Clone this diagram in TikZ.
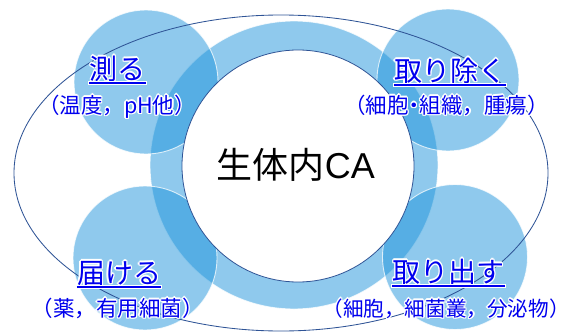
\documentclass[tikz,border=0pt]{standalone}
\usepackage{fontspec}
\setmainfont{Noto Sans CJK JP}
\newfontfamily\latinsans{Liberation Sans}
\usetikzlibrary{shapes.geometric}
\definecolor{ringblue}{RGB}{31,148,219}
\definecolor{lineblue}{RGB}{47,84,150}
\definecolor{txtblue}{RGB}{0,0,238}
\newcommand\hc[3]{\rlap{\hspace*{#1}\raisebox{#2}{#3}}}
\newcommand\glow[1]{{\color{white}%
 \hc{1.4pt}{0pt}{#1}\hc{-1.4pt}{0pt}{#1}\hc{0pt}{1.4pt}{#1}\hc{0pt}{-1.4pt}{#1}%
 \hc{1pt}{1pt}{#1}\hc{-1pt}{1pt}{#1}\hc{1pt}{-1pt}{#1}\hc{-1pt}{-1pt}{#1}}#1}
\begin{document}
\begin{tikzpicture}[x=1pt,y=-1pt,
  disc/.style={circle, inner sep=0pt, fill=ringblue, fill opacity=.5,
    draw=white, draw opacity=.75, line width=.9pt},
  core/.style={circle, inner sep=0pt, fill=white, draw=lineblue, line width=.8pt},
  orbit/.style={ellipse, inner sep=0pt, draw=lineblue, line width=.85pt},
  head/.style={font=\fontsize{28}{30}\selectfont, text=txtblue, inner sep=0pt, anchor=base},
  sub/.style={font=\fontsize{21.5}{24}\selectfont, text=txtblue, inner sep=0pt, anchor=base},
  ulhalo/.style={white, line width=3.6pt, shorten <=-1pt, shorten >=-1pt},
  ulline/.style={txtblue, line width=1.6pt}]
\useasboundingbox (0,0) rectangle (570,332);
% ring band and satellites
\node[disc, minimum size=288pt] (ring) at (294,165) {};
\node[disc, minimum size=144pt] (stl) at (146,82) {};
\node[disc, minimum size=142pt] (str) at (448,80) {};
\node[disc, minimum size=144pt] (sbl) at (145,258) {};
\node[disc, minimum size=145pt] (sbr) at (455,257) {};
% central circle
\node[core, minimum size=232pt] (core) at (298,166) {};
% outer ellipse
\node[orbit, minimum width=534pt, minimum height=316pt] (orb) at (281,173) {};
% centre text
\node[font=\fontsize{36}{40}\selectfont, inner sep=0pt, anchor=base] (ctext) at (296,178) {生体内{\latinsans CA}};
% headings
\node[head] (h1) at (117.5,79) {\glow{測る}};
\node[head] (h2) at (450,81) {\glow{取り除く}};
\node[head] (h3) at (119,283) {\glow{届ける}};
\node[head] (h4) at (448.5,282) {\glow{取り出す}};
\foreach \h in {h1,h2,h3,h4}{
  \draw[ulhalo] ([yshift=-4pt]\h.base west) -- ([yshift=-4pt]\h.base east);
  \draw[ulline] ([yshift=-4pt]\h.base west) -- ([yshift=-4pt]\h.base east);
}
% sub texts
\node[sub] (s1) at (117,113) {\glow{（温度，pH他）}};
\node[sub] (s2) at (446.5,113) {\glow{（細胞\kern-.25em・\kern-.25em組織，腫瘍）}};
\node[sub] (s3) at (117.5,316) {\glow{（薬，有用細菌）}};
\node[sub, font=\fontsize{20.6}{24}\selectfont] (s4) at (446,316) {\glow{（細胞，細菌叢，分泌物）}};
\end{tikzpicture}
\end{document}
